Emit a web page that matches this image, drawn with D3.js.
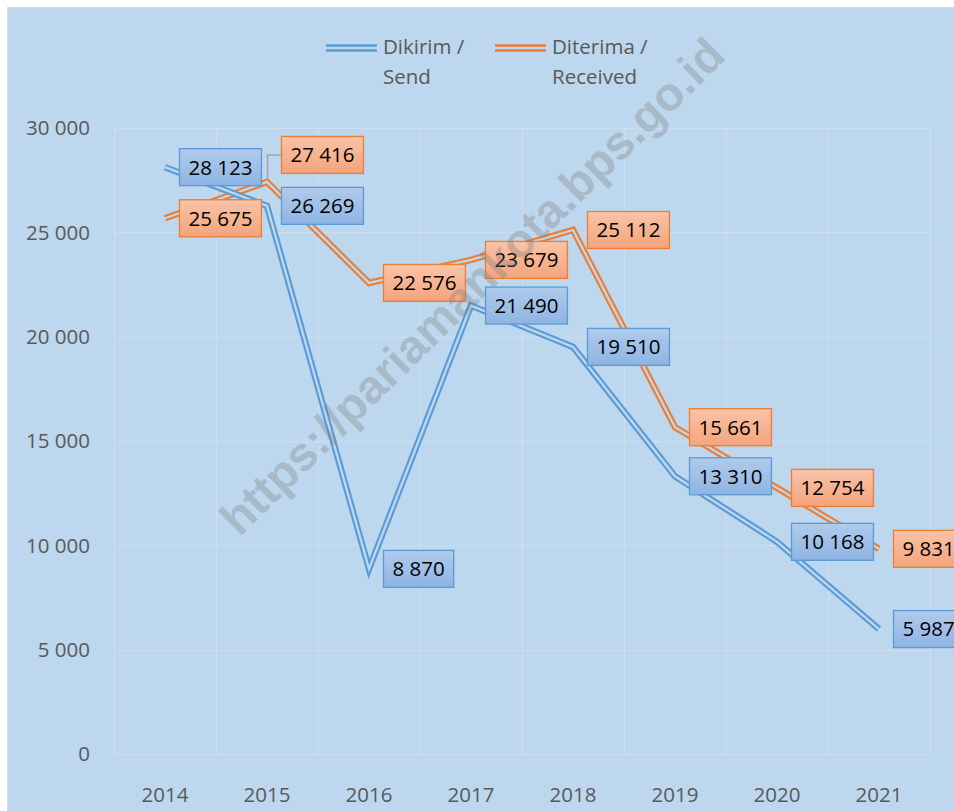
<!DOCTYPE html>
<html>
<head>
<meta charset="utf-8">
<script src="https://cdn.jsdelivr.net/npm/d3@7"></script>
<style>
  body { margin: 0; background: #fff; }
  text { font-family: "Open Sans", sans-serif; }
</style>
</head>
<body>
<svg id="chart"></svg>
<script>
// data
var years = ["2014", "2015", "2016", "2017", "2018", "2019", "2020", "2021"];
var sendValues = [28123, 26269, 8870, 21490, 19510, 13310, 10168, 5987];
var receivedValues = [25675, 27416, 22576, 23679, 25112, 15661, 12754, 9831];
var seriesNames = ["Dikirim /\nSend", "Diterima /\nReceived"];
var yTicks = [0, 5000, 10000, 15000, 20000, 25000, 30000];

var width = 954, height = 811;
var bg = "#bdd7ee";
var fs = "20.5px";
var svg = d3.select("#chart").attr("width", width).attr("height", height);

// chart area background
svg.append("rect")
  .attr("x", 7.5).attr("y", 7.5)
  .attr("width", width + 10).attr("height", height + 10)
  .style("fill", bg)
  .style("stroke", "#d9d9d9");

var x = d3.scaleBand().domain(years).range([114, 930]).paddingInner(0).paddingOuter(0);
var y = d3.scaleLinear().domain([0, 30000]).range([754, 128]);
var fmt = function(v) { return d3.format(",")(v).replace(/,/g, " "); };
var cx = function(d, i) { return x(years[i]) + x.bandwidth() / 2; };

// gridlines
var grid = svg.append("g");
grid.selectAll("line.h")
  .data(yTicks)
  .enter().append("line")
  .attr("x1", 114).attr("x2", 930)
  .attr("y1", function(d) { return Math.round(y(d)) + 0.5; })
  .attr("y2", function(d) { return Math.round(y(d)) + 0.5; })
  .style("stroke", "#cddef0").style("stroke-width", 1);
var bounds = years.map(function(d) { return x(d); }).concat([930]);
grid.selectAll("line.v")
  .data(bounds)
  .enter().append("line")
  .attr("x1", function(d) { return Math.round(d) + 0.5; })
  .attr("x2", function(d) { return Math.round(d) + 0.5; })
  .attr("y1", y(30000)).attr("y2", y(0))
  .style("stroke", "#cddef0").style("stroke-width", 1);

// y labels
svg.selectAll("text.ylab")
  .data(yTicks)
  .enter().append("text")
  .attr("x", 90)
  .attr("y", function(d) { return y(d); })
  .attr("dy", "0.35em")
  .attr("text-anchor", "end")
  .style("font-size", fs)
  .style("fill", "#595959")
  .text(fmt);

// x labels
svg.selectAll("text.xlab")
  .data(years)
  .enter().append("text")
  .attr("x", function(d) { return x(d) + x.bandwidth() / 2; })
  .attr("y", 802)
  .attr("text-anchor", "middle")
  .style("font-size", fs)
  .style("fill", "#595959")
  .text(function(d) { return d; });

// double lines
var line = d3.line()
  .x(function(d, i) { return cx(d, i); })
  .y(function(d) { return y(d); });

function doubleLine(values, color) {
  var g = svg.append("g");
  g.append("path").attr("d", line(values))
    .style("fill", "none").style("stroke", color)
    .style("stroke-width", 6.5).style("stroke-linejoin", "miter");
  g.append("path").attr("d", line(values))
    .style("fill", "none").style("stroke", bg)
    .style("stroke-width", 2.3).style("stroke-linejoin", "miter");
}
doubleLine(receivedValues, "#ed7d31");
doubleLine(sendValues, "#5b9bd5");

// gradients for label boxes
var defs = svg.append("defs");
function grad(id, top, bottom) {
  var gr = defs.append("linearGradient").attr("id", id)
    .attr("x1", 0).attr("y1", 0).attr("x2", 0).attr("y2", 1);
  gr.append("stop").attr("offset", "0%").attr("stop-color", top);
  gr.append("stop").attr("offset", "100%").attr("stop-color", bottom);
}
grad("gBlue", "#b0cbec", "#8eb4e3");
grad("gOrange", "#f9c3a8", "#f4a47c");

// label nudges (only 27 416 is moved up with a leader line)
var recvNudge = [0, -27, 0, 0, 0, 0, 0, 0];

function labels(values, fillId, stroke, nudge) {
  var g = svg.append("g");
  values.forEach(function(v, i) {
    var px = cx(v, i), py = y(v);
    var dy = nudge ? nudge[i] : 0;
    var bx = px + 14.5, by = py + dy;
    if (dy !== 0) {
      g.append("path")
        .attr("d", "M" + (px + 0.5) + "," + (py - 4) + "V" + (by) + "H" + bx)
        .style("fill", "none").style("stroke", "#a5a5a5").style("stroke-width", 1.5);
    }
    var box = g.append("rect");
    var t = g.append("text")
      .attr("y", by)
      .attr("dy", "0.36em")
      .style("font-size", fs)
      .style("fill", "#000")
      .text(fmt(v));
    var tw = t.node().getComputedTextLength();
    t.attr("x", bx + 9);
    box.attr("x", bx).attr("y", by - 18.5)
      .attr("width", tw + 18).attr("height", 37)
      .style("fill", "url(#" + fillId + ")")
      .style("stroke", stroke).style("stroke-width", 1.3);
  });
}
labels(sendValues, "gBlue", "#5b9bd5", null);
labels(receivedValues, "gOrange", "#ed7d31", recvNudge);

// legend
var legendX = [326, 495];
var legendColors = ["#5b9bd5", "#ed7d31"];
seriesNames.forEach(function(name, i) {
  var g = svg.append("g").attr("transform", "translate(" + legendX[i] + ",0)");
  g.append("line").attr("x1", 0).attr("x2", 51).attr("y1", 48).attr("y2", 48)
    .style("stroke", legendColors[i]).style("stroke-width", 7.5);
  g.append("line").attr("x1", 0).attr("x2", 51).attr("y1", 48).attr("y2", 48)
    .style("stroke", bg).style("stroke-width", 2.5);
  name.split("\n").forEach(function(part, k) {
    g.append("text")
      .attr("x", 57).attr("y", 54 + k * 29.5)
      .style("font-size", fs)
      .style("fill", "#595959")
      .text(part);
  });
});

// watermark
svg.append("text")
  .attr("transform", "translate(472,286) rotate(-44.5)")
  .attr("text-anchor", "middle")
  .attr("dy", "0.35em")
  .style("font-family", "'Liberation Sans', Arial, sans-serif")
  .style("font-weight", "bold")
  .style("font-size", "47px")
  .style("fill", "#808080")
  .style("fill-opacity", 0.35)
  .text("https://pariamankota.bps.go.id");
</script>
</body>
</html>
